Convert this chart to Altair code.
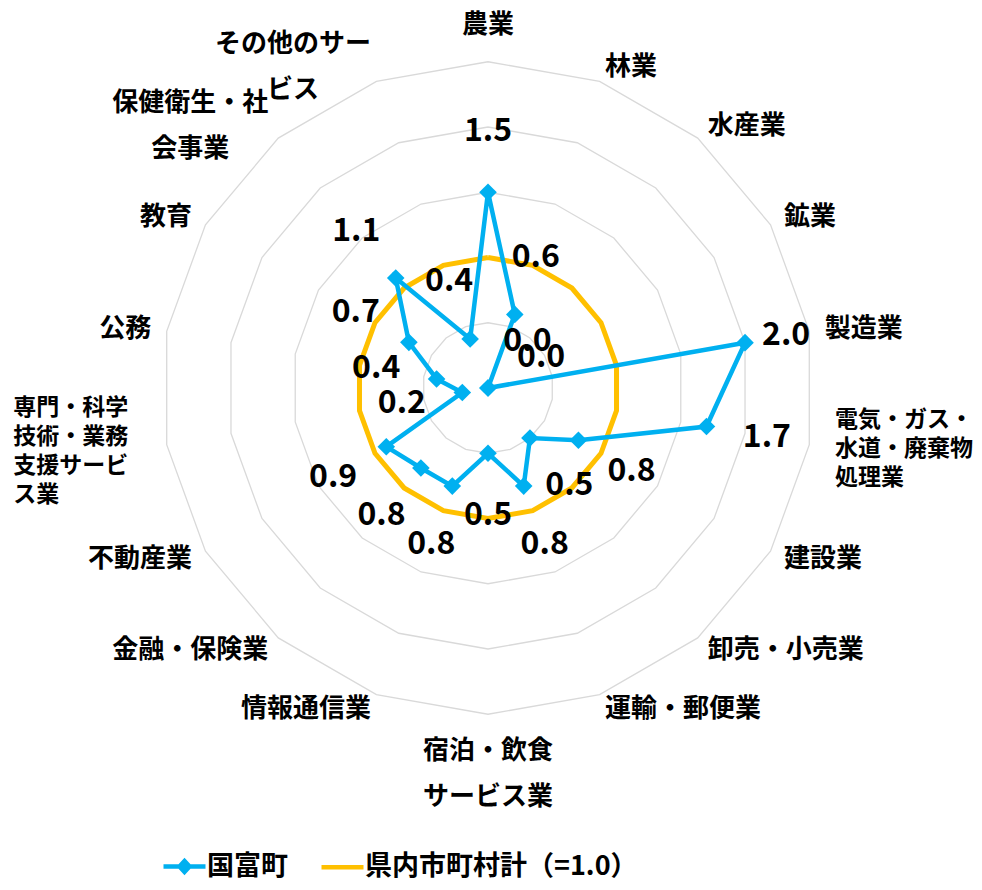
import math
import altair as alt
import pandas as pd

# ---------------- data ----------------
categories = ["農業", "林業", "水産業", "鉱業", "製造業",
              "電気・ガス・水道・廃棄物処理業", "建設業", "卸売・小売業",
              "運輸・郵便業", "宿泊・飲食サービス業", "情報通信業",
              "金融・保険業", "不動産業", "専門・科学技術・業務支援サービス業",
              "公務", "教育", "保健衛生・社会事業", "その他のサービス"]
category_label_lines = ["農業", "林業", "水産業", "鉱業", "製造業",
                        "電気・ガス・\n水道・廃棄物\n処理業", "建設業", "卸売・小売業",
                        "運輸・郵便業", "宿泊・飲食\nサービス業", "情報通信業",
                        "金融・保険業", "不動産業", "専門・科学\n技術・業務\n支援サービ\nス業",
                        "公務", "教育", "保健衛生・社\n会事業", "その他のサー\nビス"]
kunitomi = [1.5, 0.6, 0.0, 0.0, 2.0, 1.7, 0.8, 0.5, 0.8, 0.5, 0.8, 0.8, 0.9, 0.2, 0.4, 0.7, 1.1, 0.4]
prefecture_total = [1.0, 1.0, 1.0, 1.0, 1.0, 1.0, 1.0, 1.0, 1.0,
                    1.0, 1.0, 1.0, 1.0, 1.0, 1.0, 1.0, 1.0, 1.0]
grid_levels = [0.5, 1.0, 1.5, 2.0, 2.5]
series_names = ["国富町", "県内市町村計（=1.0）"]

# ---------------- style / layout ----------------
BLUE = "#00B0F0"
ORANGE = "#FFC000"
GRID = "#D9D9D9"
FONT = "Noto Sans CJK JP"
W, H = 966, 873
CX, CY = 480, 380          # centre of the radar in plot pixels
PX = 130.5                 # pixels per unit of value
N = len(categories)

xscale = alt.Scale(domain=[-CX / PX, (W - CX) / PX], nice=False, zero=False)
yscale = alt.Scale(domain=[-(H - CY) / PX, CY / PX], nice=False, zero=False)
X = alt.X("px:Q", scale=xscale, axis=None)
Y = alt.Y("py:Q", scale=yscale, axis=None)

# ---------------- tables ----------------
series_rows = []
for name, vals in zip(series_names, [kunitomi, prefecture_total]):
    for k in range(N + 1):
        series_rows.append({"series": name, "k": k, "v": vals[k % N]})
series_df = pd.DataFrame(series_rows)

grid_df = pd.DataFrame([{"level": L, "k": k, "v": L}
                        for L in grid_levels for k in range(N + 1)])

NORMAL_FS, NORMAL_LH, NORMAL_R = 26, 46, 2.62
SMALL_FS, SMALL_LH = 23, 29
SMALL_R_RIGHT, SMALL_R_LEFT = 2.70, 2.80
label_rows = []
for k, txt in enumerate(category_label_lines):
    lines = txt.split("\n")
    n = len(lines)
    small = n >= 3
    th = 2 * math.pi * k / N
    s = math.sin(th)
    if small:
        fs, lh = SMALL_FS, SMALL_LH
        R = SMALL_R_RIGHT if s > 0 else SMALL_R_LEFT
    else:
        fs, lh, R = NORMAL_FS, NORMAL_LH, NORMAL_R
    ax, ay = R * math.sin(th), R * math.cos(th)
    wb = max(len(l) for l in lines) * fs / PX
    half_h = (((n - 1) * lh + fs) / 2 + 8) / PX
    if abs(s) < 1e-9:
        left = ax - wb / 2
        ay = ay + (half_h if math.cos(th) > 0 else -half_h)
    elif s > 0:
        left = ax
    else:
        left = ax - wb
    lx = left if small else left + wb / 2
    # Vega puts the first line at y: move it up so the block is centred
    ly = ay + (n - 1) * lh / 2 / PX
    label_rows.append({"text": txt, "px": lx, "py": ly, "small": small})
label_df = pd.DataFrame(label_rows)


def polar(chart, r_expr="datum.v"):
    return chart.transform_calculate(
        theta=f"2*PI*datum.k/{N}"
    ).transform_calculate(
        px=f"({r_expr})*sin(datum.theta)",
        py=f"({r_expr})*cos(datum.theta)",
    )


# ---------------- layers ----------------
grid = polar(alt.Chart(grid_df)).mark_line(color=GRID, strokeWidth=1.3).encode(
    x=X, y=Y, detail="level:N", order="k:Q")

orange_line = polar(alt.Chart(series_df).transform_filter(
    alt.datum.series == series_names[1])).mark_line(
    color=ORANGE, strokeWidth=5).encode(x=X, y=Y, order="k:Q")

blue_line = polar(alt.Chart(series_df).transform_filter(
    alt.datum.series == series_names[0])).mark_line(
    color=BLUE, strokeWidth=4.5).encode(x=X, y=Y, order="k:Q")

blue_points = polar(alt.Chart(series_df).transform_filter(
    (alt.datum.series == series_names[0]) & (alt.datum.k < N))).mark_point(
    shape="diamond", filled=True, size=310, color=BLUE, opacity=1).encode(x=X, y=Y)

value_labels = polar(alt.Chart(series_df).transform_filter(
    (alt.datum.series == series_names[0]) & (alt.datum.k < N)),
    r_expr="min(datum.v + 0.47, 2.32)").transform_calculate(
    label="format(datum.v, '.1f')").mark_text(
    font=FONT, fontSize=32, fontWeight="bold", color="black",
    align="center", baseline="middle").encode(x=X, y=Y, text="label:N")

cat_normal = alt.Chart(label_df).transform_filter("!datum.small").mark_text(
    font=FONT, fontSize=NORMAL_FS, fontWeight="bold", color="black",
    align="center", baseline="middle", lineBreak="\n", lineHeight=NORMAL_LH).encode(
    x=X, y=Y, text="text:N")

cat_small = alt.Chart(label_df).transform_filter("datum.small").mark_text(
    font=FONT, fontSize=SMALL_FS, fontWeight="bold", color="black",
    align="left", baseline="middle", lineBreak="\n", lineHeight=SMALL_LH).encode(
    x=X, y=Y, text="text:N")

LEG_BLUE = "M-2.1,0L2.1,0M0,-0.55L0.5,0L0,0.55L-0.5,0Z"
LEG_ORANGE = "M-2.1,0L2.1,0"
legend_def = alt.Legend(
    title=None, orient="none", legendX=163, legendY=845, direction="horizontal",
    symbolSize=400, symbolStrokeWidth=4.5, symbolOpacity=1,
    labelFont=FONT, labelFontSize=27, labelFontWeight="bold", labelColor="black",
    labelLimit=600, labelOffset=9, columnPadding=24, padding=0)

legend_layer = polar(alt.Chart(series_df).transform_filter("false")).mark_point(
    filled=True, strokeWidth=4.5).encode(
    x=X, y=Y,
    color=alt.Color("series:N", scale=alt.Scale(domain=series_names, range=[BLUE, ORANGE]),
                    legend=legend_def),
    stroke=alt.Stroke("series:N", scale=alt.Scale(domain=series_names, range=[BLUE, ORANGE]),
                      legend=legend_def),
    shape=alt.Shape("series:N", scale=alt.Scale(domain=series_names, range=[LEG_BLUE, LEG_ORANGE]),
                    legend=legend_def),
)

chart = alt.layer(
    legend_layer, grid, orange_line, blue_line, blue_points, value_labels,
    cat_normal, cat_small
).properties(
    width=W, height=H, padding=0, background="white",
    autosize=alt.AutoSizeParams(type="none"),
).configure_view(stroke=None)

chart.save("out.html", embed_options={"renderer": "svg", "actions": False})
